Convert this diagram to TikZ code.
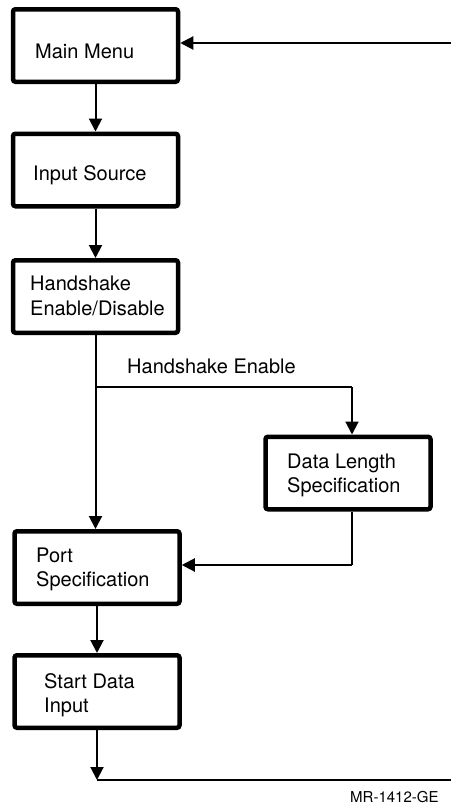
\documentclass[tikz,border=0pt]{standalone}
\usepackage{fontspec}
\setmainfont{TeX Gyre Heros}
\usetikzlibrary{arrows.meta,calc}
\begin{document}
\begin{tikzpicture}[x=1pt,y=-1pt,
  box/.style={draw,line width=4.5pt,rounded corners=2.5pt,minimum width=165pt,minimum height=72.5pt,inner sep=0pt},
  lbl/.style={anchor=base west,inner sep=0pt,font=\fontsize{20}{25}\selectfont},
  conn/.style={line width=2pt},
  arr/.style={conn,-{Triangle[length=13pt,width=13pt]}}]
\useasboundingbox (0,0) rectangle (451,806);
% boxes
\node[box] (main)  at (95.5,45.5) {};
\node[box] (input) at (95.5,170) {};
\node[box] (hand)  at (95.5,296.5) {};
\node[box] (dl)    at (348,473) {};
\node[box] (port)  at (97,567.5) {};
\node[box] (start) at (97,691.5) {};
% texts
\node[lbl] (tmain) at (35,58) {Main Menu};
\node[lbl] (tinput) at (33,180) {Input Source};
\node[lbl] (thand1) at (30,290) {Handshake};
\node[lbl] (thand2) at (30,315) {Enable/Disable};
\node[lbl] (ten) at (127,373) {Handshake Enable};
\node[lbl] (tdl1) at (287,468) {Data Length};
\node[lbl] (tdl2) at (287,492) {Specification};
\node[lbl] (tport1) at (36,562) {Port};
\node[lbl] (tport2) at (36,586) {Specification};
\node[lbl] (tstart1) at (44,688) {Start Data};
\node[lbl] (tstart2) at (44,712) {Input};
\node[anchor=base west,inner sep=0pt,font=\fontsize{15}{18}\selectfont] (code) at (350,802) {MR-1412-GE};
% coordinates
\coordinate (tr) at (451,43);
\coordinate (br1) at (95.5,387);
\coordinate (dlx) at (352,387);
\coordinate (pj) at (352,565);
\coordinate (bl) at (97,780);
\coordinate (brr) at (451,780);
% connectors
\draw[arr] (tr) -- (tr -| main.east);
\draw[arr] (main) -- (input);
\draw[arr] (input) -- (hand);
\draw[arr] (hand.south) -- (port.north -| hand.south);
\draw[conn] (br1) -- (dlx);
\draw[arr] (dlx) -- (dlx |- dl.north);
\draw[conn] (dlx |- dl.south) -- (pj);
\draw[arr] (pj) -- (pj -| port.east);
\draw[arr] (port) -- (start);
\draw[arr] (start) -- (bl);
\draw[conn] (bl) -- (brr);
\end{tikzpicture}
\end{document}
